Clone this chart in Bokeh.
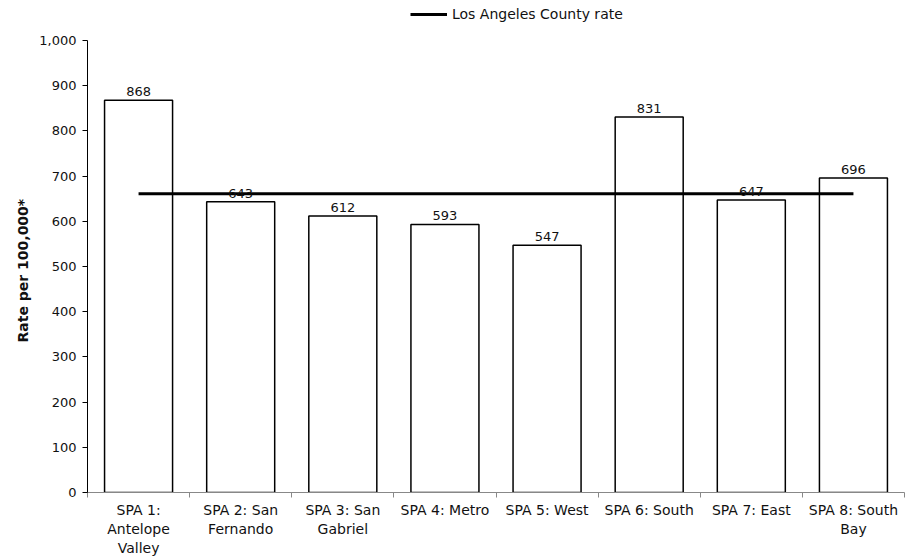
from bokeh.plotting import figure
from bokeh.models import (Range1d, FixedTicker, NumeralTickFormatter, LabelSet,
                          ColumnDataSource, Legend, LegendItem, LinearAxis, Title)
from bokeh.core.properties import value
from bokeh.embed import file_html
from bokeh.resources import INLINE

categories = ["SPA 1:\nAntelope\nValley", "SPA 2: San\nFernando", "SPA 3: San\nGabriel",
              "SPA 4: Metro", "SPA 5: West", "SPA 6: South", "SPA 7: East",
              "SPA 8: South\nBay"]
rates = [868, 643, 612, 593, 547, 831, 647, 696]
county_rate = 661
y_ticks = list(range(0, 1001, 100))
y_max = 1000
y_title = "Rate per 100,000*"

FONT = "DejaVu Sans"
NUM_FS = "13px"
TXT_FS = "14px"

n = len(categories)
centers = [i + 0.5 for i in range(n)]
bounds = list(range(n + 1))

# frame extends above the y-axis top to hold the legend (axis bounded at y_max)
TOP_PAD = 4
FRAME_H = 558 - 66 - TOP_PAD
AXIS_H = 452
p = figure(width=913, height=558, output_backend="svg", toolbar_location=None,
           x_range=Range1d(0, n), y_range=Range1d(0, y_max * FRAME_H / AXIS_H),
           min_border_left=87, min_border_right=9, min_border_top=TOP_PAD,
           min_border_bottom=66, x_axis_type=None, y_axis_type=None)
p.outline_line_color = None
p.background_fill_color = "white"
p.border_fill_color = "white"

src = ColumnDataSource(dict(x=centers, top=rates, label=[str(v) for v in rates]))
p.vbar(x="x", top="top", width=0.666, source=src, fill_color="white",
       line_color="black", line_width=1.5)

labels = LabelSet(x="x", y="top", text="label", source=src, y_offset=4,
                  text_align="center", text_baseline="bottom",
                  text_font=value(FONT), text_font_size=value(NUM_FS),
                  text_color="#111111")
p.add_layout(labels)

line = p.line(x=[centers[0], centers[-1]], y=[county_rate, county_rate],
              line_color="black", line_width=3)

# y axis
yaxis = LinearAxis(ticker=FixedTicker(ticks=y_ticks), bounds=(0, y_max),
                   formatter=NumeralTickFormatter(format="0,0"),
                   major_label_text_font=FONT, major_label_text_font_size=NUM_FS,
                   major_label_text_color="#111111",
                   major_tick_out=5, major_tick_in=0, minor_tick_out=0,
                   minor_tick_in=0, major_label_standoff=6,
                   axis_line_color="black", major_tick_line_color="black")
p.add_layout(yaxis, "left")

# y axis title, placed along the bounded axis (not the taller frame)
ytitle = Title(text=y_title, align="left", offset=150, standoff=11,
               text_font=FONT, text_font_size=TXT_FS, text_font_style="bold",
               text_color="#111111")
p.add_layout(ytitle, "left")

# x axis: labels at centers, ticks at boundaries
xaxis = LinearAxis(ticker=FixedTicker(ticks=centers, minor_ticks=bounds),
                   major_label_overrides={c: lab for c, lab in zip(centers, categories)},
                   major_label_text_font=FONT, major_label_text_font_size=TXT_FS,
                   major_label_text_color="#111111",
                   major_tick_out=0, major_tick_in=0,
                   minor_tick_out=5, minor_tick_in=0,
                   minor_tick_line_color="#888888", axis_line_color="#888888",
                   major_label_standoff=4)
p.add_layout(xaxis, "below")

p.xgrid.visible = False
p.ygrid.visible = False

legend = Legend(items=[LegendItem(label="Los Angeles County rate", renderers=[line])],
                location=(323, 470), orientation="horizontal",
                glyph_width=37, glyph_height=16, label_standoff=5,
                padding=0, margin=0, border_line_color=None,
                background_fill_alpha=0,
                label_text_font=FONT, label_text_font_size=TXT_FS,
                label_text_color="#111111")
p.add_layout(legend, "center")

open("out.html", "w").write(file_html(p, INLINE))
